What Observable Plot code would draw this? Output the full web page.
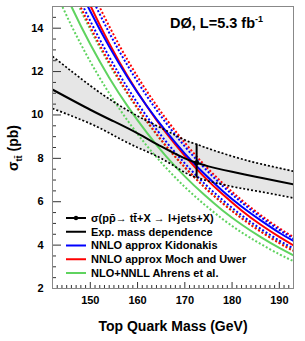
<!DOCTYPE html>
<html><head><meta charset="utf-8">
<script src="https://cdn.jsdelivr.net/npm/d3@7"></script>
<script src="https://cdn.jsdelivr.net/npm/@observablehq/plot@0.6"></script>
<style>
body{margin:0;background:#fff}
#chart{position:relative;width:305px;height:341px}
</style>
</head><body><div id="chart"></div>
<script>
// ---- data ----
const theoryMass = [142,146,150,154,158,162,166,170,174,178,182,186,190,193];
const kidonakis    = [18.69,16.62,14.78,13.15,11.69,10.40,9.25,8.22,7.31,6.50,5.78,5.15,4.57,4.19];
const kidonakisLo  = [18.31,16.19,14.33,12.68,11.21,9.92,8.78,7.77,6.87,6.08,5.38,4.76,4.21,3.84];
const kidonakisHi  = [19.75,17.52,15.55,13.79,12.24,10.86,9.64,8.55,7.59,6.73,5.97,5.30,4.70,4.30];
const mochUwer     = [19.26,17.03,15.05,13.30,11.75,10.39,9.18,8.12,7.17,6.34,5.60,4.95,4.38,3.99];
const mochUwerLo   = [18.00,15.91,14.06,12.43,10.98,9.71,8.58,7.59,6.70,5.93,5.24,4.63,4.09,3.73];
const mochUwerHi   = [20.19,17.91,15.88,14.09,12.49,11.08,9.83,8.72,7.73,6.86,6.08,5.39,4.78,4.37];
const ahrens       = [16.96,15.00,13.26,11.72,10.37,9.17,8.10,7.17,6.34,5.60,4.95,4.38,3.87,3.53];
const ahrensLo     = [15.99,14.12,12.46,11.00,9.71,8.57,7.57,6.68,5.90,5.20,4.59,4.06,3.58,3.26];
const ahrensHi     = [17.80,15.75,13.94,12.34,10.93,9.67,8.56,7.58,6.71,5.94,5.26,4.65,4.12,3.76];

const expMass    = [142,150,155,160,165,170,172.5,175,180,185,190,193];
const expCentral = [11.17,10.24,9.70,9.15,8.55,8.00,7.80,7.63,7.38,7.15,6.93,6.80];
const expLo      = [10.30,9.60,9.05,8.50,8.00,7.35,7.12,6.95,6.70,6.50,6.30,6.17];
const expHi      = [12.70,11.35,10.60,9.95,9.40,8.85,8.65,8.45,8.10,7.80,7.55,7.40];

const measMass = [172.5];
const measVal  = [7.8];
const measLo   = [7.1];
const measHi   = [8.65];

const xMajor = [150,160,170,180,190];
const xMinor = d3.range(142,194,1).filter(v => v % 10 !== 0);
const yMajor = [2,4,6,8,10,12,14];
const yMinor = d3.range(2,15.01,0.5).filter(v => v % 2 !== 0);

const legendLabels = ["σ(pp̄→ tt̄+X → l+jets+X)","Exp. mass dependence","NNLO approx Kidonakis","NNLO approx Moch and Uwer","NLO+NNLL Ahrens et al."];

// ---- tables built from the arrays ----
const series = [
  {name:"Ahrens lo", v:ahrensLo, color:"#5fd35f", dash:"2,2"},
  {name:"Ahrens hi", v:ahrensHi, color:"#5fd35f", dash:"2,2"},
  {name:"Moch lo", v:mochUwerLo, color:"#ff0000", dash:"2,2"},
  {name:"Kid lo", v:kidonakisLo, color:"#0000ff", dash:"2,2"},
  {name:"Moch hi", v:mochUwerHi, color:"#ff0000", dash:"2,2"},
  {name:"Kid hi", v:kidonakisHi, color:"#0000ff", dash:"2,2"},
  {name:"Ahrens", v:ahrens, color:"#5fd35f", dash:null},
  {name:"Moch", v:mochUwer, color:"#ff0000", dash:null},
  {name:"Kid", v:kidonakis, color:"#0000ff", dash:null}
];
const band = expMass.map((m,i)=>({m, c:expCentral[i], lo:expLo[i], hi:expHi[i]}));
const meas = measMass.map((m,i)=>({m, v:measVal[i], lo:measLo[i], hi:measHi[i]}));

const W=305,H=341,mL=52,mR=12,mT=6,mB=53;
const fW=W-mL-mR, fH=H-mT-mB;
const FONT="'Liberation Sans', Arial, Helvetica, sans-serif";

const theoryMarks = series.map(s => Plot.line(theoryMass.map((m,i)=>({m, v:s.v[i]})), {
  x:"m", y:"v", stroke:s.color, strokeWidth:2, strokeDasharray:s.dash||undefined,
  strokeLinecap:"butt", curve:"natural", clip:true
}));

const chart = Plot.plot({
  width:W, height:H, marginLeft:mL, marginRight:mR, marginTop:mT, marginBottom:mB,
  x:{domain:[142,193]}, y:{domain:[2,15]},
  style:{fontFamily:FONT, fontWeight:"bold", fontSize:"11px", color:"#000", background:"#fff"},
  marks:[
    Plot.areaY(band, {x:"m", y1:"lo", y2:"hi", fill:"#e6e6e6", curve:"natural", clip:true}),
    ...theoryMarks,
    Plot.line(band, {x:"m", y:"hi", stroke:"#000", strokeWidth:1.7, strokeDasharray:"2,2", strokeLinecap:"butt", curve:"natural", clip:true}),
    Plot.line(band, {x:"m", y:"lo", stroke:"#000", strokeWidth:1.7, strokeDasharray:"2,2", strokeLinecap:"butt", curve:"natural", clip:true}),
    Plot.line(band, {x:"m", y:"c", stroke:"#000", strokeWidth:2, curve:"natural", clip:true}),
    Plot.ruleX(meas, {x:"m", y1:"lo", y2:"hi", stroke:"#000", strokeWidth:2}),
    Plot.dot(meas, {x:"m", y:"v", r:2.5, fill:"#000", stroke:null}),
    Plot.tickX(xMinor, {insetTop:fH-3, stroke:"#333", strokeWidth:1}),
    Plot.tickX(xMajor, {insetTop:fH-6, stroke:"#333", strokeWidth:1}),
    Plot.tickY(yMinor, {insetRight:fW-4, stroke:"#333", strokeWidth:1}),
    Plot.tickY(yMajor, {insetRight:fW-9, stroke:"#333", strokeWidth:1}),
    Plot.axisX({ticks:xMajor, tickSize:0, tickPadding:8, label:null, fontSize:11}),
    Plot.axisY({ticks:yMajor, tickSize:0, tickPadding:9, label:null, fontSize:11}),
    Plot.frame({stroke:"#888", strokeWidth:1})
  ]
});
document.getElementById("chart").appendChild(chart);

// ---- text decorations ----
const svg = d3.select(chart);
const g = svg.append("g").attr("font-family", FONT).attr("font-weight","bold").attr("fill","#000").attr("text-anchor","start");

// experiment label
const t = g.append("text").attr("x",170).attr("y",28).attr("font-size",14.5).attr("text-anchor","start");
t.append("tspan").text("DØ, L=5.3 fb");
t.append("tspan").attr("font-size",9).attr("dy",-6).text("-1");

// y title
const yt = g.append("text").attr("transform","translate(18,148) rotate(-90)").attr("text-anchor","middle").attr("font-size",14);
yt.append("tspan").text("σ");
yt.append("tspan").attr("font-size",9).attr("dy",4).text("tt̄");
yt.append("tspan").attr("dy",-4).text(" (pb)");

// x title
g.append("text").attr("x",173).attr("y",330.5).attr("text-anchor","middle").attr("font-size",14).text("Top Quark Mass (GeV)");

// legend
const legColors = ["#000","#000","#0000ff","#ff0000","#5fd35f"];
const legY0 = 218, legDy = 13.75;
legendLabels.forEach((lab,i)=>{
  const y = legY0 + i*legDy;
  g.append("line").attr("x1",66).attr("x2",86).attr("y1",y).attr("y2",y).attr("stroke",legColors[i]).attr("stroke-width",2);
  if(i===0) g.append("circle").attr("cx",76).attr("cy",y).attr("r",2.2).attr("fill","#000");
  g.append("text").attr("x",91).attr("y",y).attr("dy","0.35em").attr("font-size",11).attr("text-anchor","start").text(lab);
});
</script>
</body></html>
